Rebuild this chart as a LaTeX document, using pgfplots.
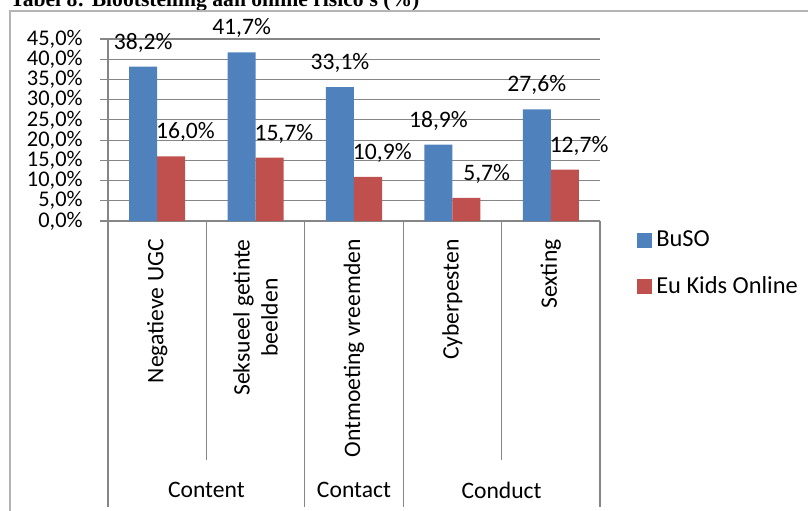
\documentclass[border=0pt]{standalone}
\usepackage{fontspec}
\setmainfont{Carlito}
\newfontfamily\titlefont{Liberation Serif}
\usepackage{pgfplots}
\pgfplotsset{compat=1.18}
\definecolor{buso}{HTML}{4F81BD}
\definecolor{eukids}{HTML}{C0504D}
\definecolor{gridc}{HTML}{868686}
\definecolor{framec}{HTML}{B4B4B4}
\pgfplotsset{sqlegend/.style={legend image code/.code={\fill[##1] (0pt,-3.75pt) rectangle (7.5pt,3.75pt);}}}
\begin{document}
\fontsize{11.8pt}{14pt}\selectfont
\begin{tikzpicture}
\node[anchor=base west, inner sep=0pt, font=\titlefont\bfseries\fontsize{10.8pt}{12pt}\selectfont] at (5pt,-3pt) {Tabel 8: Blootstelling aan online risico's (\%)};
\draw[framec, line width=1.2pt] (5pt,-300pt) -- (5pt,-5.5pt) -- (420pt,-5.5pt);
\begin{axis}[
 at={(54pt,-110.5pt)}, anchor=south west,
 scale only axis, width=246pt, height=91pt,
 ybar=0pt, bar width=14pt,
 xmin=-0.5, xmax=4.5, ymin=0, ymax=45,
 axis lines*=left,
 axis line style={gridc, line width=0.6pt},
 clip=false,
 /pgf/number format/assume math mode=true,
 font=\fontsize{11.8pt}{14pt}\selectfont,
 xtick={0,...,4},
 xticklabels={Negatieve UGC, {Seksueel getinte\\beelden}, Ontmoeting vreemden, Cyberpesten, Sexting},
 x tick style={draw=none},
 xticklabel style={yshift=-5pt, rotate=90, anchor=east, align=center, inner sep=0pt},
 ytick={0,5,...,45},
 yticklabel={\pgfmathprintnumber[fixed,fixed zerofill,precision=1,use comma]{\tick}\%},
 yticklabel style={anchor=east, inner sep=0pt, xshift=-8.5pt, font=\fontsize{11.2pt}{12pt}\selectfont},
 y tick style={gridc, line width=0.6pt},
 tick align=outside, major tick length=4pt,
 ymajorgrids, major grid style={gridc, line width=0.6pt},
 legend style={draw=none, fill=none, at={(axis description cs:1.075,-0.236)}, anchor=west, inner sep=0pt, row sep=9pt, font=\fontsize{12.2pt}{14pt}\selectfont, /tikz/every even column/.append style={column sep=3pt}},
 legend cell align=left,
]
\addplot[fill=buso, draw=none, sqlegend,
 nodes near coords={\pgfmathprintnumber[fixed,fixed zerofill,precision=1,use comma]{\pgfplotspointmeta}\%},
 every node near coord/.append style={anchor=center, yshift=12pt, inner sep=0pt, text=black}]
 coordinates {(0,38.2) (1,41.7) (2,33.1) (3,18.9) (4,27.6)};
\addlegendentry{BuSO}
\addplot[fill=eukids, draw=none, sqlegend,
 nodes near coords={\pgfmathprintnumber[fixed,fixed zerofill,precision=1,use comma]{\pgfplotspointmeta}\%},
 every node near coord/.append style={anchor=east, xshift=22pt, yshift=12pt, inner sep=0pt, text=black}]
 coordinates {(0,16.0) (1,15.7) (2,10.9) (3,5.7) (4,12.7)};
\addlegendentry{Eu Kids Online}
\draw[gridc, line width=0.6pt] (axis cs:-0.5,0) -- ++(0pt,-143pt);
\draw[gridc, line width=0.6pt] (axis cs:1.5,0) -- ++(0pt,-143pt);
\draw[gridc, line width=0.6pt] (axis cs:2.5,0) -- ++(0pt,-143pt);
\draw[gridc, line width=0.6pt] (axis cs:4.5,0) -- ++(0pt,-143pt);
\draw[gridc, line width=0.6pt] (axis cs:0.5,0) -- ++(0pt,-119.5pt);
\draw[gridc, line width=0.6pt] (axis cs:3.5,0) -- ++(0pt,-119.5pt);
\node at (axis cs:0.5,0) [yshift=-134.5pt] {Content};
\node at (axis cs:2,0) [yshift=-134.5pt] {Contact};
\node at (axis cs:3.5,0) [yshift=-134.5pt] {Conduct};
\end{axis}
\pgfresetboundingbox
\path[use as bounding box] (0pt,0pt) rectangle (404pt,-255pt);
\end{tikzpicture}
\end{document}
